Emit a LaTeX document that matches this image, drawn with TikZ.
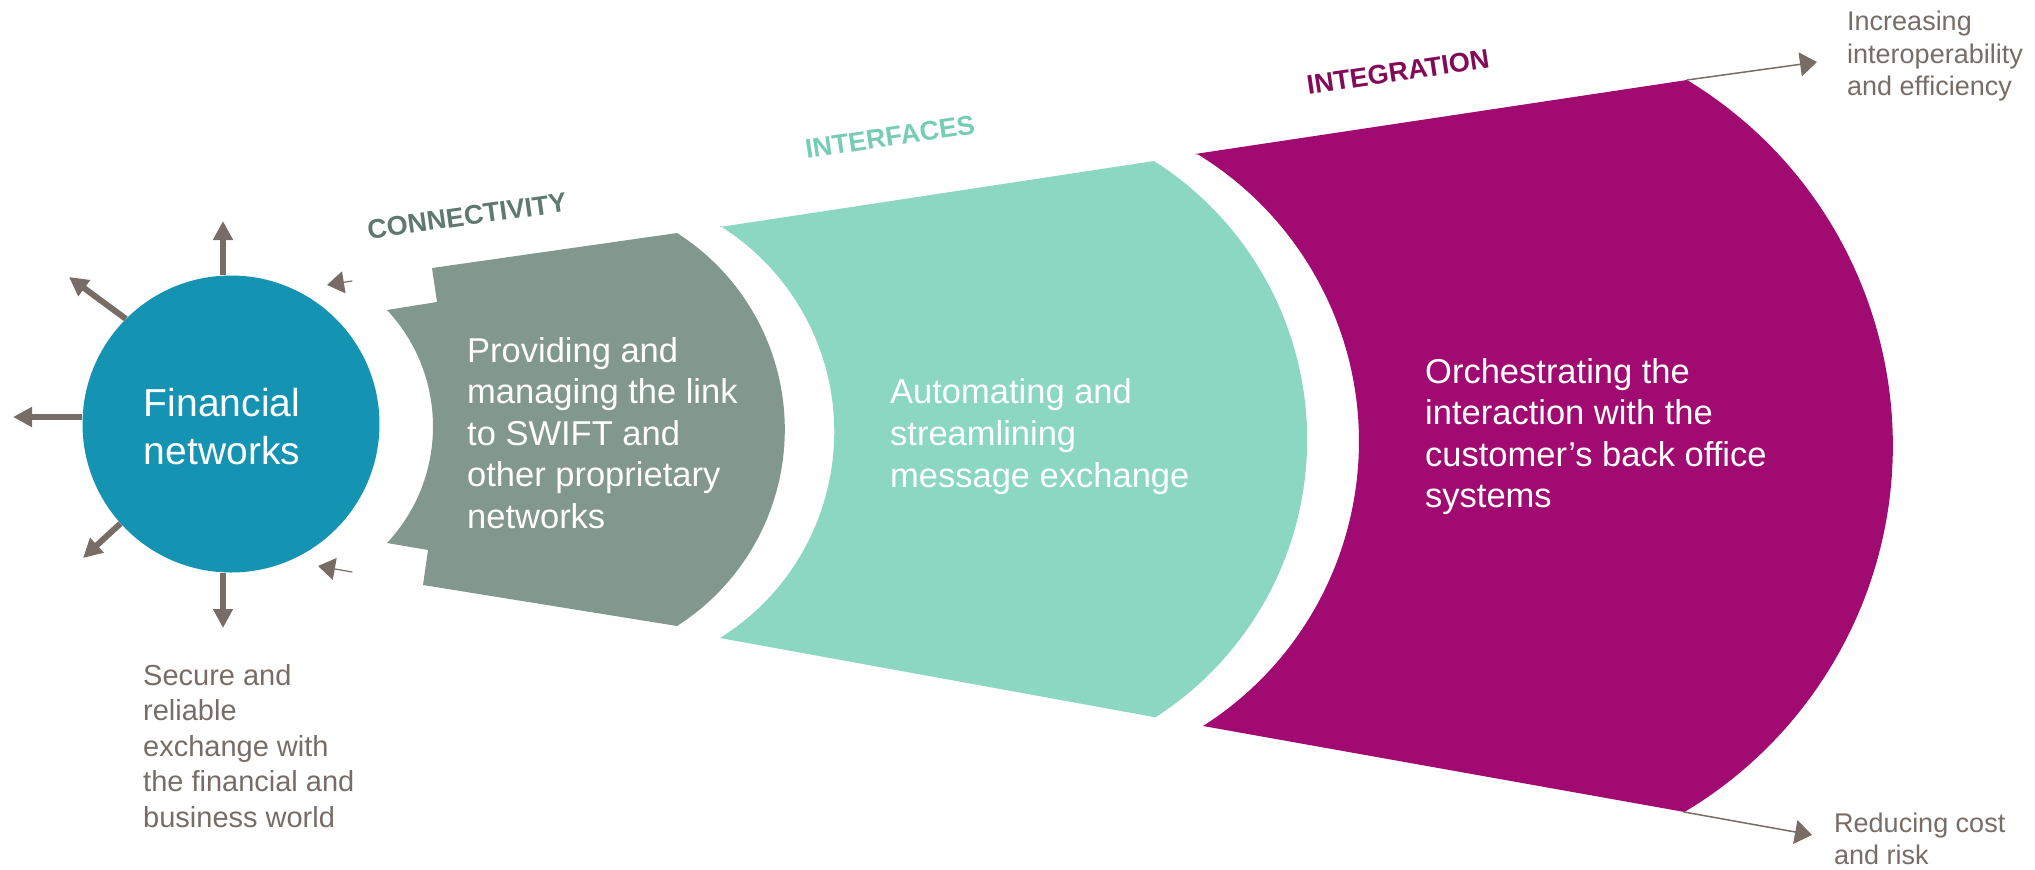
\documentclass[tikz,border=0pt]{standalone}
\usepackage{fontspec}
\setmainfont{Liberation Sans}
\usepackage{tikz}
\usetikzlibrary{arrows.meta, calc}
\definecolor{netBlue}{HTML}{1493B3}
\definecolor{connGrey}{HTML}{82978E}
\definecolor{connText}{HTML}{5E7971}
\definecolor{ifaceTeal}{HTML}{8CD7C2}
\definecolor{ifaceText}{HTML}{76CCB5}
\definecolor{integMagenta}{HTML}{A10A70}
\definecolor{integText}{HTML}{830A57}
\definecolor{noteBrown}{HTML}{776D66}

\begin{document}
\begin{tikzpicture}[x=1pt, y=-1pt, style={line cap=round},
  outarrow/.style={line width=6pt, noteBrown, line cap=butt, -{Triangle[length=19pt, width=19pt]}},
  inarrow/.style={line width=1.2pt, noteBrown, -{Triangle[length=17pt, width=22pt]}},
  farrow/.style={line width=1.5pt, noteBrown, -{Triangle[length=17pt, width=24pt]}},
  bodytext/.style={white, anchor=north west, inner sep=0pt, align=left, font=\fontsize{34.5}{41.5}\selectfont},
  notetext/.style={noteBrown, anchor=north west, inner sep=0pt, align=left},
  phase/.style={font=\bfseries\fontsize{27}{32}\selectfont, inner sep=0pt}]
  \useasboundingbox (0,0) rectangle (2035,870);

  % bands
  \fill[connGrey] (387,310) -- (437,302) -- (432,268) -- (677,233)
    arc[start angle=-57.5, end angle=57.5, radius=233] -- (423,585) -- (428,550) -- (387,543)
    arc[start angle=43.1, end angle=-43.1, radius=170.5] -- cycle;
  \fill[ifaceTeal] (720,227) -- (1154,161)
    arc[start angle=-57.6, end angle=57.3, radius=330] -- (720,638)
    arc[start angle=58, end angle=-58, radius=243] -- cycle;
  \coordinate (integTR) at (1687,80);
  \coordinate (integBR) at (1684,812);
  \fill[integMagenta] (1195,154) -- (integTR)
    arc[start angle=-58.8, end angle=59.2, radius=427] -- (1203,726)
    arc[start angle=57.5, end angle=-58.5, radius=337] -- cycle;

  \node[circle, fill=netBlue, minimum size=297pt, inner sep=0pt] (fin) at (231,424) {};
  \node[white, align=center, inner sep=0pt, anchor=north, font=\fontsize{39}{48}\selectfont] (finLbl) at (222,388) {Financial\\networks};

  \coordinate (tipN) at (223,221);
  \coordinate (tipS) at (223,628);
  \coordinate (tipW) at (13,417);
  \coordinate (tipNW) at (69,277);
  \coordinate (tipSW) at (83,558);
  \draw[outarrow] (fin.north -| tipN) -- (tipN);
  \draw[outarrow] (fin.south -| tipS) -- (tipS);
  \draw[outarrow] (fin.west |- tipW) -- (tipW);
  \draw[outarrow] (fin.135) -- (tipNW);
  \draw[outarrow] (fin.222) -- (tipSW);

  \coordinate (inUpStart) at (352,281);
  \coordinate (inUpEnd) at (327,285);
  \coordinate (inLoStart) at (352,572);
  \coordinate (inLoEnd) at (318,566);
  \draw[inarrow] (inUpStart) -- (inUpEnd);
  \draw[inarrow] (inLoStart) -- (inLoEnd);

  \coordinate (gainTip) at (1817,62);
  \coordinate (saveTip) at (1812,835);
  \draw[farrow] (integTR) -- (gainTip);
  \draw[farrow] (integBR) -- (saveTip);

  \node[phase, connText, rotate=8] (connLbl) at (467,216) {CONNECTIVITY};
  \node[phase, ifaceText, rotate=8.5] (ifaceLbl) at (890,137) {INTERFACES};
  \node[phase, integText, rotate=8.5] (integLbl) at (1398,72) {INTEGRATION};

  \node[bodytext] (connTxt) at (467,337) {Providing and\\managing the link\\to SWIFT and\\other proprietary\\networks};
  \node[bodytext, font=\fontsize{34.5}{42}\selectfont] (ifaceTxt) at (890,378) {Automating and\\streamlining\\message exchange};
  \node[bodytext] (integTxt) at (1425,358) {Orchestrating the\\interaction with the\\customer’s back office\\systems};

  \node[notetext, font=\fontsize{29}{35.5}\selectfont] (secureTxt) at (143,664) {Secure and\\reliable\\exchange with\\the financial and\\business world};
  \node[notetext, font=\fontsize{27}{32.5}\selectfont] (gainTxt) at (1847,11) {Increasing\\interoperability\\and efficiency};
  \node[notetext, font=\fontsize{27}{32}\selectfont] (saveTxt) at (1834,813) {Reducing cost\\and risk};
\end{tikzpicture}
\end{document}
